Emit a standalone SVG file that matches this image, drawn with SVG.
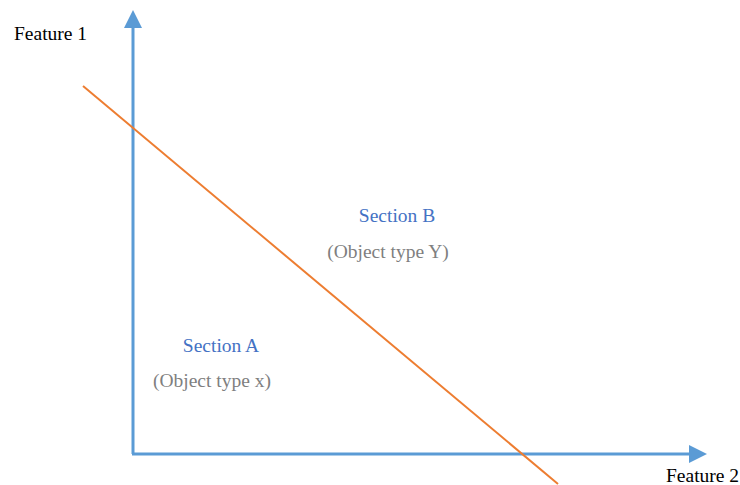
<svg xmlns="http://www.w3.org/2000/svg" width="740" height="485" viewBox="0 0 740 485">
<style>
.ax{stroke:#5B9BD5;stroke-width:3;fill:none}
.t{font-family:"Liberation Serif","Times New Roman",serif;font-size:19.5px}
.lbl{fill:#000}
.sec{fill:#4472C4}
.obj{fill:#7F7F7F}
</style>
<defs>
<marker id="ah" markerWidth="6" markerHeight="6" refX="0" refY="3" orient="auto" markerUnits="strokeWidth">
<path d="M0,0 L6,3 L0,6 Z" fill="#5B9BD5"/>
</marker>
</defs>
<rect width="740" height="485" fill="#fff"/>
<g id="connectors">
<path class="ax" d="M133,454 L133,28" marker-end="url(#ah)"/>
<path class="ax" d="M132,454 L689,454" marker-end="url(#ah)"/>
<line x1="83" y1="86" x2="558" y2="484" stroke="#ED7D31" stroke-width="2"/>
</g>
<g id="feature1"><text class="t lbl" x="14" y="40">Feature 1</text></g>
<g id="feature2"><text class="t lbl" x="666" y="482">Feature 2</text></g>
<g id="sectionB">
<text class="t sec" x="397" y="222" text-anchor="middle">Section B</text>
<text class="t obj" x="388" y="258" text-anchor="middle">(Object type Y)</text>
</g>
<g id="sectionA">
<text class="t sec" x="221" y="352" text-anchor="middle">Section A</text>
<text class="t obj" x="212" y="387" text-anchor="middle">(Object type x)</text>
</g>
</svg>
